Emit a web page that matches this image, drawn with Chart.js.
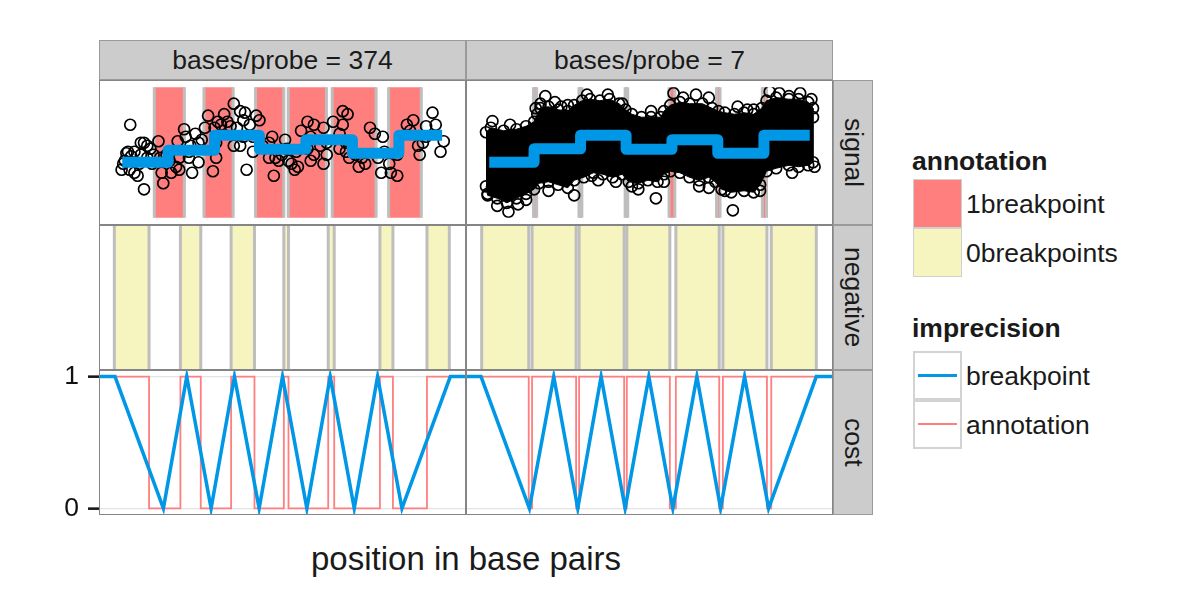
<!DOCTYPE html>
<html><head><meta charset="utf-8">
<script src="https://cdn.jsdelivr.net/npm/chart.js@4.4.1/dist/chart.umd.min.js"></script>
<style>
html,body{margin:0;padding:0;background:#fff;}
#wrap{position:relative;width:1200px;height:600px;overflow:hidden;font-family:"Liberation Sans",Arial,Helvetica,sans-serif;color:#1a1a1a;}
canvas{position:absolute;}
.abs{position:absolute;box-sizing:border-box;}
.pborder{border:1.5px solid #858585;pointer-events:none;z-index:5;}
.strip{background:#cccccc;border:1.5px solid #9a9a9a;font-size:26.5px;display:flex;align-items:center;justify-content:center;white-space:nowrap;}
.vstrip{writing-mode:vertical-rl;}
.lgtitle{font-weight:bold;font-size:26.5px;line-height:26.5px;white-space:nowrap;}
.lglab{font-size:26.5px;white-space:nowrap;display:flex;align-items:center;}
.xtitle{font-size:33px;line-height:33px;white-space:nowrap;text-align:center;}
</style>
</head><body>
<div id="wrap"></div>
<script>
// ---------------- DATA ----------------
const facetLabels = ['bases/probe = 374', 'bases/probe = 7'];
const rowLabels = ['signal', 'negative', 'cost'];
const annotationLabels = ['1breakpoint', '0breakpoints'];
const imprecisionLabels = ['breakpoint', 'annotation'];
const xTitle = 'position in base pairs';
const costTicks = [0, 1];

// Left facet (bases/probe = 374): observed signal
const posL = [7.5,11.8,5.8,6.3,4.8,8.8,10.3,10.8,7.8,12.8,
  8.8,13.8,14.8,14.3,9.8,16.3,11.8,5.3,7.3,17.8,
  17.3,20.3,22.8,19.8,22.8,25.8,24.3,24.8,27.8,28.8,
  26.3,28.8,26.8,22.3,30.8,31.8,33.8,33.3,34.3,34.3,
  36.8,35.8,37.8,38.8,39.8,41.8,42.8,43.3,43.8,40.8,
  44.8,47.8,45.8,41.8,45.8,48.8,50.8,51.8,52.8,52.3,
  53.8,55.8,56.3,56.8,57.8,58.8,59.8,59.3,62.8,63.8,
  60.8,62.8,64.8,64.8,66.8,67.8,68.8,70.8,72.8,73.8,
  75.3,73.8,74.8,72.8,75.8,77.8,78.8,80.8,82.3,83.8,
  84.8,85.8,86.3,86.8,88.3,88.8,90.8,93.8,95.8,97.3,
  97.8,98.8,99.8,101.8,102.8,104.3,105.3,99.8,94.8,90.8,
  68.8,67.8,74.8,79.8,63.8,50.8,54.8,46.8,42.8,39.8,
  34.8,29.8,25.8,21.8,18.8,16.8,12.8,10.8,6.8];
const sigL = [3.05,0.90,1.85,2.10,1.55,1.45,1.75,2.05,2.00,2.35,
  2.15,2.25,2.05,1.75,1.35,2.50,2.45,1.75,1.55,1.10,
  1.45,1.45,1.55,1.85,1.95,2.15,2.90,2.65,2.75,2.45,
  2.35,1.80,1.45,2.50,2.95,3.35,2.95,1.50,1.95,2.45,
  3.40,3.05,3.15,3.00,3.75,3.50,3.20,3.45,1.55,2.95,
  3.05,3.20,2.65,2.35,2.15,2.35,2.45,2.65,1.95,1.35,
  1.85,2.55,2.25,1.85,1.75,1.55,1.65,2.15,3.15,2.65,
  2.85,2.25,3.05,2.05,2.35,2.95,2.45,3.15,2.75,3.50,
  3.40,3.05,2.45,2.25,1.95,2.05,1.65,1.75,2.95,2.75,
  1.95,1.45,2.65,2.15,1.75,1.45,1.35,3.05,3.20,2.35,
  2.05,2.45,2.65,3.45,3.05,2.15,2.50,3.00,2.85,2.05,
  2.05,1.75,2.15,1.95,1.85,1.95,2.05,3.35,2.65,2.35,
  3.15,2.55,1.95,1.65,2.05,1.95,1.95,2.45,2.15];

// Right facet (bases/probe = 7): dense cloud — outline of the cloud and isolated outliers
const cloudTopPosR = [4.0,5.5,9.5,13.5,16.5,19.0,20.0,21.0,23.5,26.5,29.5,31.5,34.0,36.5,39.5,42.5,45.5,47.5,49.5,52.5,55.5,58.5,59.5,61.5,64.5,67.5,71.5,74.5,76.5,78.5,81.5,84.5,87.5,90.0,91.5,94.5,98.5,101.5,104.5,106.0,106.0];
const cloudTopSigR = [2.80,2.95,2.85,2.90,3.00,3.15,3.40,3.60,3.65,3.55,3.50,3.70,3.85,3.90,3.85,3.90,3.75,3.55,3.40,3.30,3.30,3.30,3.50,3.70,3.80,3.75,3.75,3.60,3.50,3.45,3.40,3.45,3.40,3.60,3.85,3.95,3.90,3.90,3.80,3.60,3.30];
const cloudBottomPosR = [4.0,4.5,7.5,10.5,13.5,16.5,19.0,20.5,23.5,26.5,29.5,31.5,34.5,37.5,40.5,43.5,46.5,48.5,51.5,54.5,57.5,59.5,61.5,64.5,67.5,70.5,73.5,75.5,77.5,80.5,84.5,87.5,89.5,91.5,94.5,98.5,101.5,104.5,106.0];
const cloudBottomSigR = [1.00,0.70,0.60,0.45,0.60,0.75,0.90,1.10,1.15,1.05,0.95,1.20,1.30,1.45,1.40,1.30,1.40,1.15,1.10,1.20,1.15,1.40,1.50,1.45,1.30,1.20,1.30,1.15,0.90,0.80,0.85,0.80,1.05,1.50,1.60,1.70,1.65,1.70,1.80];
const posR = [6.0,11.0,14.0,22.5,21.0,25.5,31.5,37.0,42.0,49.5,57.0,62.5,73.5,82.5,85.5,81.0,78.5,95.5,102.0,105.5,27.5,4.5,7.5,16.5,23.5,39.0,44.5,51.5,59.5,70.5,73.5,89.5,92.5,98.5,69.5,65.5,55.5,46.5,35.5,29.5,19.5,11.5,106.5,99.5,87.5];
const sigR = [3.17,0.15,0.40,4.00,3.75,3.80,0.70,1.35,4.05,1.00,0.60,4.10,3.95,3.65,3.55,0.20,0.85,4.10,4.10,3.90,3.65,0.75,0.35,0.55,0.85,1.20,1.15,0.90,1.15,1.00,0.95,0.85,4.15,4.00,4.05,3.95,3.50,3.75,4.05,3.70,3.60,3.05,1.65,1.45,3.55];

// Segmentation model (breakpoint fit): segment starts/ends and means
const segStartL = [5.0,19.3,33.8,47.8,62.3,76.8,91.3];
const segEndL   = [19.3,33.8,47.8,62.3,76.8,91.3,104.8];
const segMeanL  = [1.80,2.20,2.70,2.23,2.55,2.10,2.70];
const segStartR = [5.0,19.0,33.5,47.7,62.0,76.3,90.7];
const segEndR   = [19.0,33.5,47.7,62.0,76.3,90.7,105.0];
const segMeanR  = [1.80,2.25,2.70,2.23,2.55,2.10,2.70];

// Annotated regions
const oneBpStartL = [15.0,30.5,46.6,56.8,70.5,88.1];
const oneBpEndL   = [24.4,39.6,55.4,68.7,84.2,98.3];
const zeroBpStartL = [4.6,24.4,39.6,55.4,68.7,84.2,98.3];
const zeroBpEndL   = [15.0,30.5,46.6,56.8,70.5,88.1,105.0];
const oneBpStartR = [18.8,33.0,47.4,61.1,75.9,90.2];
const oneBpEndR   = [19.8,33.9,48.2,62.9,77.0,91.5];
const zeroBpStartR = [4.7,19.8,33.9,48.2,62.9,77.0,91.5];
const zeroBpEndR   = [18.8,33.0,47.4,61.1,75.9,90.2,105.0];

// Breakpoint imprecision cost
const costPosL = [0,4.8,19.3,26.3,33.6,40.6,48.0,55.0,62.3,69.3,76.5,83.5,90.8,105.3,110];
const costValL = [1,1,0,1,0,1,0,1,0,1,0,1,0,1,1];
const costPosR = [0,4.5,19.0,26.3,33.5,40.5,47.7,54.8,62.0,69.2,76.3,83.5,90.7,105.0,110];
const costValR = [1,1,0,1,0,1,0,1,0,1,0,1,0,1,1];

// ---------------- STYLE / LAYOUT ----------------
const FONT = '"Liberation Sans", Arial, Helvetica, sans-serif';
const BLUE = '#0097E6', RED = '#FF7F7F', YEL = '#F6F4BF', GRAY = '#BEBEBE';
const X_MIN = 0, X_MAX = 110;
const SIG_MIN = -0.05, SIG_MAX = 4.30;
const NEG_MIN = 0, NEG_MAX = 1;
const COST_MIN = -0.05, COST_MAX = 1.05;
const cols = [{left: 99, w: 367}, {left: 466, w: 367}];
const rows = [{top: 80, h: 145}, {top: 225, h: 145}, {top: 370, h: 145}];
const wrap = document.getElementById('wrap');

function el(cls, style, text) {
  const d = document.createElement('div');
  d.className = 'abs ' + cls;
  Object.assign(d.style, style);
  if (text !== undefined) d.textContent = text;
  wrap.appendChild(d);
  return d;
}
function canvasAt(left, top, w, h) {
  const c = document.createElement('canvas');
  c.width = w; c.height = h;
  c.style.left = left + 'px'; c.style.top = top + 'px';
  c.style.width = w + 'px'; c.style.height = h + 'px';
  wrap.appendChild(c);
  return c;
}
const zip = (xs, ys) => xs.map((x, i) => ({x, y: ys[i]}));

function regionSets(starts, ends, color, lo, hi) {
  return starts.map((s, i) => ({
    data: [{x: s, y: lo}, {x: s, y: hi}, {x: ends[i], y: hi}, {x: ends[i], y: lo}],
    showLine: true, fill: 'shape', backgroundColor: color, borderColor: GRAY,
    borderWidth: 3, pointRadius: 0, clip: 0, order: 3, borderJoinStyle: 'miter'
  }));
}
function stepSet(starts, ends, means) {
  const d = starts.map((s, i) => ({x: s, y: means[i]}));
  d.push({x: ends[ends.length - 1], y: means[means.length - 1]});
  return {data: d, showLine: true, stepped: 'before', borderColor: BLUE, borderWidth: 11,
    borderJoinStyle: 'round', borderCapStyle: 'butt', pointRadius: 0, fill: false, clip: 0, order: 0};
}
function pointSet(xs, ys) {
  return {data: zip(xs, ys), showLine: false, pointRadius: 5.5, pointBorderWidth: 1.7,
    pointBorderColor: '#000', pointBackgroundColor: 'rgba(0,0,0,0)', borderColor: '#000',
    backgroundColor: 'rgba(0,0,0,0)', clip: 0, order: 1};
}
function cloudSet(tx, ty, bx, by) {
  const top = zip(tx, ty);
  const bot = zip(bx, by).reverse();
  return {data: top.concat(bot), showLine: true, fill: 'shape', backgroundColor: '#000',
    borderColor: '#000', borderWidth: 1, pointRadius: 5.5, pointBorderWidth: 1.7,
    pointBorderColor: '#000', pointBackgroundColor: 'rgba(0,0,0,0)', clip: 0, order: 1};
}
function annotCost(starts, ends) {
  const d = [{x: X_MIN, y: 1}];
  starts.forEach((s, i) => { d.push({x: s, y: 1}, {x: s, y: 0}, {x: ends[i], y: 0}, {x: ends[i], y: 1}); });
  d.push({x: X_MAX, y: 1});
  return d;
}

function baseOptions(yMin, yMax) {
  return {
    responsive: false, animation: false, events: [],
    layout: {padding: 0},
    plugins: {legend: {display: false}, tooltip: {enabled: false}},
    elements: {line: {tension: 0}},
    scales: {
      x: {type: 'linear', min: X_MIN, max: X_MAX, display: false},
      y: {type: 'linear', min: yMin, max: yMax, display: false}
    }
  };
}
function makeChart(canvas, datasets, options) {
  return new Chart(canvas.getContext('2d'), {type: 'line', data: {datasets}, options});
}

const facets = [
  {pos: posL, sig: sigL, segS: segStartL, segE: segEndL, segM: segMeanL,
   oneS: oneBpStartL, oneE: oneBpEndL, zeroS: zeroBpStartL, zeroE: zeroBpEndL,
   cPos: costPosL, cVal: costValL, cloud: null},
  {pos: posR, sig: sigR, segS: segStartR, segE: segEndR, segM: segMeanR,
   oneS: oneBpStartR, oneE: oneBpEndR, zeroS: zeroBpStartR, zeroE: zeroBpEndR,
   cPos: costPosR, cVal: costValR, cloud: [cloudTopPosR, cloudTopSigR, cloudBottomPosR, cloudBottomSigR]}
];

facets.forEach((f, ci) => {
  const col = cols[ci];
  // signal row
  let ds = [stepSet(f.segS, f.segE, f.segM), pointSet(f.pos, f.sig)];
  if (f.cloud) ds.push(cloudSet(...f.cloud));
  ds = ds.concat(regionSets(f.oneS, f.oneE, RED, SIG_MIN - 1, SIG_MAX + 1));
  makeChart(canvasAt(col.left, rows[0].top, col.w, rows[0].h), ds, baseOptions(SIG_MIN, SIG_MAX));
  // negative row
  makeChart(canvasAt(col.left, rows[1].top, col.w, rows[1].h),
    regionSets(f.zeroS, f.zeroE, YEL, NEG_MIN - 1, NEG_MAX + 1), baseOptions(NEG_MIN, NEG_MAX));
  // cost row
  const isLeft = ci === 0;
  const axisW = isLeft ? 59 : 0;
  const pad = 25;
  const opts = baseOptions(COST_MIN, COST_MAX);
  opts.layout.padding = {top: pad, bottom: pad, left: 0, right: 0};
  opts.scales.y = {
    type: 'linear', min: COST_MIN, max: COST_MAX, display: true, position: 'left',
    afterBuildTicks: s => { s.ticks = costTicks.map(v => ({value: v})); },
    afterFit: s => { s.width = axisW; },
    ticks: {display: isLeft, autoSkip: false, padding: 9, color: '#111',
      font: {family: FONT, size: 26.5}, callback: v => String(v)},
    grid: {color: '#E3E3E3', lineWidth: 1.3, drawTicks: isLeft, tickLength: 11,
      tickColor: '#1a1a1a', tickWidth: 2.6},
    border: {display: false}
  };
  const costDs = [
    {data: zip(f.cPos, f.cVal), showLine: true, borderColor: BLUE, borderWidth: 3.5,
     pointRadius: 0, fill: false, clip: 0, order: 0, borderJoinStyle: 'miter'},
    {data: annotCost(f.oneS, f.oneE), showLine: true, borderColor: RED, borderWidth: 1.8,
     pointRadius: 0, fill: false, clip: 0, order: 1}
  ];
  makeChart(canvasAt(col.left - axisW, rows[2].top - pad, col.w + axisW, rows[2].h + 2 * pad), costDs, opts);

  // panel borders
  rows.forEach(r => el('pborder', {left: col.left + 'px', top: r.top + 'px', width: col.w + 'px', height: r.h + 'px'}));
  // top strip
  el('strip', {left: col.left + 'px', top: '40px', width: col.w + 'px', height: '40px'}, facetLabels[ci]);
});
// right strips
rows.forEach((r, i) => el('strip vstrip', {left: '833px', top: r.top + 'px', width: '40px', height: r.h + 'px'}, rowLabels[i]));

// x axis title
el('xtitle', {left: '99px', width: '734px', top: '542px'}, xTitle);

// legend: annotation
el('lgtitle', {left: '912px', top: '148px'}, 'annotation');
const annColors = [RED, YEL];
annotationLabels.forEach((lab, i) => {
  const top = 179 + i * 48.5;
  el('', {left: '913px', top: top + 'px', width: '49px', height: '49px', background: annColors[i], border: '1.5px solid #d0d0d0'});
  el('lglab', {left: '966px', top: (top + 1) + 'px', height: '49px'}, lab);
});
// legend: imprecision
el('lgtitle', {left: '912px', top: '315px'}, 'imprecision');
const impColors = [BLUE, RED];
const impWidths = [3.5, 1.5];
imprecisionLabels.forEach((lab, i) => {
  const top = 351 + i * 48.5;
  el('', {left: '913px', top: top + 'px', width: '49px', height: '49px', background: '#fff', border: '2px solid #d3d3d3'});
  el('', {left: '918px', top: (top + 24.5 - impWidths[i] / 2) + 'px', width: '39px', height: impWidths[i] + 'px', background: impColors[i]});
  el('lglab', {left: '966px', top: (top + 1) + 'px', height: '49px'}, lab);
});
</script>
</body></html>
